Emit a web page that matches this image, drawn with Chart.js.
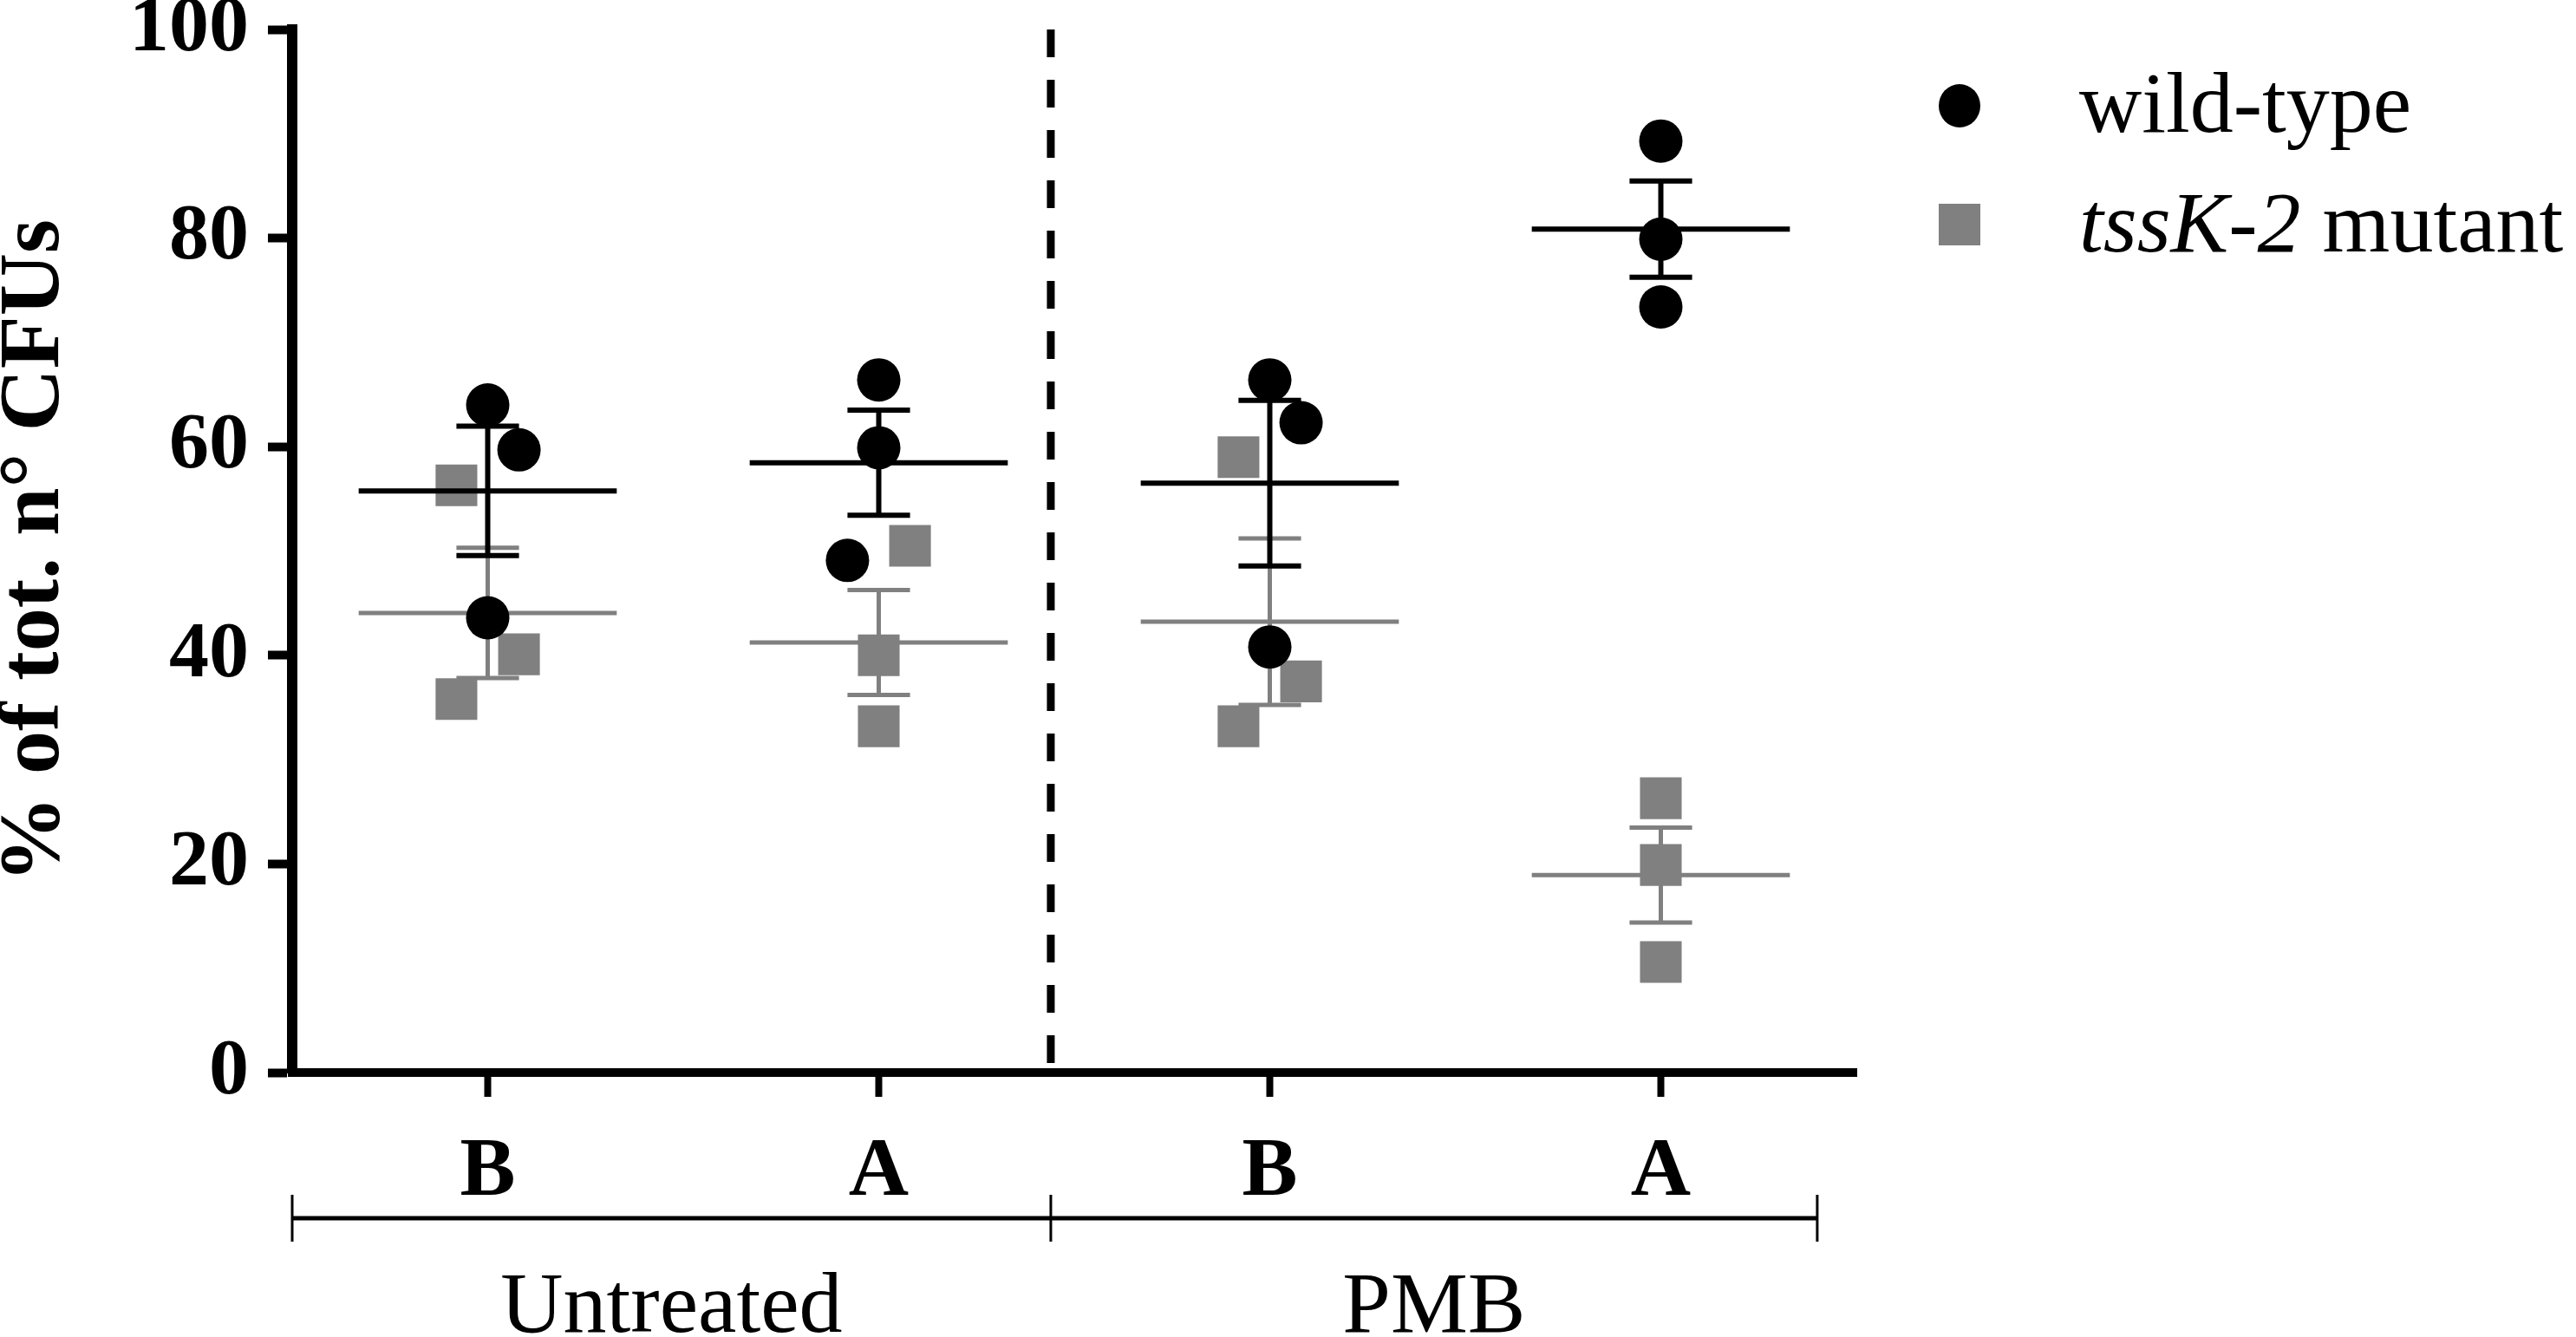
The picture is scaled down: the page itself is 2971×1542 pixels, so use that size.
<!DOCTYPE html>
<html>
<head>
<meta charset="utf-8">
<script src="https://cdn.jsdelivr.net/npm/chart.js@4.4.1/dist/chart.umd.min.js"></script>
<style>
html, body { margin: 0; padding: 0; background: #fff; }
canvas { display: block; }
</style>
</head>
<body>
<canvas id="myChart" width="2971" height="1542"></canvas>
<script>
// data (% of total CFUs, three replicates per group)
var categories = ['B', 'A', 'B', 'A'];
var groupLabels = ['Untreated', 'PMB'];
var seriesNames = ['wild-type', 'tssK-2 mutant'];
var wildType = [[64.0, 59.7, 43.6], [66.4, 59.9, 49.1], [66.4, 62.3, 40.8], [89.3, 79.9, 73.4]];
var mutant = [[56.3, 40.1, 35.8], [50.5, 40.0, 33.2], [59.0, 37.5, 33.2], [26.3, 19.9, 10.6]];
var yTicks = [0, 20, 40, 60, 80, 100];

// look
var BLACK = '#000000', GREY = '#808080';
var SERIF = '"Liberation Serif", "DejaVu Serif", serif';
// scatter placement of replicates (-1 left, 0 centre, 1 right)
var wtShift = [[0, 1, 0], [0, 0, -1], [0, 1, 0], [0, 0, 0]];
var mutShift = [[-1, 1, -1], [1, 0, 0], [-1, 1, -1], [0, 0, 0]];
var step = 0.08, halfMean = 0.33, halfCap = 0.08;
var split = 1.94, bracketEnd = 3.9;

function center(i) { return i + 0.5; }

function points(values, shift) {
    var out = [];
    values.forEach(function (g, i) {
        g.forEach(function (v, j) {
            out.push({x: center(i) + shift[i][j] * step, y: v});
        });
    });
    return out;
}

// mean line + SEM bars, segments split with null points
function summary(values) {
    var out = [];
    values.forEach(function (g, i) {
        var n = g.length;
        var m = g.reduce(function (a, b) { return a + b; }, 0) / n;
        var sd = Math.sqrt(g.reduce(function (a, b) { return a + (b - m) * (b - m); }, 0) / (n - 1));
        var sem = sd / Math.sqrt(n);
        var c = center(i);
        out.push(
            {x: c - halfMean, y: m}, {x: c + halfMean, y: m}, {x: c, y: null},
            {x: c, y: m - sem}, {x: c, y: m + sem}, {x: c, y: null},
            {x: c - halfCap, y: m + sem}, {x: c + halfCap, y: m + sem}, {x: c, y: null},
            {x: c - halfCap, y: m - sem}, {x: c + halfCap, y: m - sem}, {x: c, y: null}
        );
    });
    return out;
}

var extras = {
    id: 'extras',
    beforeDatasetsDraw: function (chart) {
        var c = chart.ctx, xs = chart.scales.x, area = chart.chartArea;
        var x = xs.getPixelForValue(split);
        c.save();
        c.strokeStyle = BLACK;
        c.lineWidth = 9;
        c.setLineDash([32, 26]);
        c.beginPath();
        c.moveTo(x, area.top);
        c.lineTo(x, area.bottom);
        c.stroke();
        c.restore();
    },
    afterDraw: function (chart) {
        var c = chart.ctx, xs = chart.scales.x;
        var x0 = xs.getPixelForValue(0), x1 = xs.getPixelForValue(split), x2 = xs.getPixelForValue(bracketEnd);
        var y = 1405;
        c.save();
        c.strokeStyle = BLACK;
        c.lineWidth = 5;
        c.beginPath();
        c.moveTo(x0, y); c.lineTo(x2, y);
        c.stroke();
        c.lineWidth = 3;
        [x0, x1, x2].forEach(function (px) {
            c.beginPath();
            c.moveTo(px, y - 27); c.lineTo(px, y + 27);
            c.stroke();
        });
        c.fillStyle = BLACK;
        c.font = '100px ' + SERIF;
        c.textAlign = 'center';
        c.textBaseline = 'alphabetic';
        c.fillText(groupLabels[0], (x0 + x1) / 2, 1536);
        c.fillText(groupLabels[1], (x1 + x2) / 2, 1536);

        // legend
        var lx = 2260, tx = 2398;
        c.beginPath();
        c.ellipse(lx, 122, 24, 25, 0, 0, Math.PI * 2);
        c.fill();
        c.fillStyle = GREY;
        c.fillRect(lx - 24, 259 - 24, 48, 48);
        c.fillStyle = BLACK;
        c.textAlign = 'left';
        c.font = '100px ' + SERIF;
        c.fillText(seriesNames[0], tx, 152);
        var parts = seriesNames[1].split(' ');
        c.font = 'italic 100px ' + SERIF;
        c.fillText(parts[0], tx, 290);
        var w = c.measureText(parts[0] + ' ').width;
        c.font = '100px ' + SERIF;
        c.fillText(parts.slice(1).join(' '), tx + w, 290);
        c.restore();
    }
};

var ctx = document.getElementById('myChart').getContext('2d');
var myChart = new Chart(ctx, {
    type: 'scatter',
    data: {
        datasets: [{
                label: seriesNames[0],
                data: points(wildType, wtShift),
                pointStyle: 'circle',
                pointRadius: 25,
                backgroundColor: BLACK,
                borderWidth: 0
            },
            {
                type: 'line',
                label: 'wild-type mean',
                data: summary(wildType),
                borderColor: BLACK,
                borderWidth: 6,
                borderCapStyle: 'butt',
                pointRadius: 0,
                spanGaps: false,
                fill: false
            },
            {
                label: seriesNames[1],
                data: points(mutant, mutShift),
                pointStyle: 'rect',
                pointRadius: 34,
                backgroundColor: GREY,
                borderWidth: 0
            },
            {
                type: 'line',
                label: 'mutant mean',
                data: summary(mutant),
                borderColor: GREY,
                borderWidth: 5,
                borderCapStyle: 'butt',
                pointRadius: 0,
                spanGaps: false,
                fill: false
            }
        ]
    },
    options: {
        responsive: false,
        devicePixelRatio: 1,
        animation: false,
        events: [],
        layout: {
            padding: {top: 34, right: 830, bottom: 0, left: 0}
        },
        plugins: {
            legend: {display: false},
            tooltip: {enabled: false}
        },
        scales: {
            x: {
                type: 'linear',
                position: 'bottom',
                min: 0,
                max: 4,
                afterBuildTicks: function (s) {
                    s.ticks = categories.map(function (c, i) { return {value: center(i)}; });
                },
                afterFit: function (s) { s.height = 305; },
                ticks: {
                    autoSkip: false,
                    maxRotation: 0,
                    padding: 31,
                    color: BLACK,
                    font: {family: SERIF, size: 96, weight: 'bold'},
                    callback: function (v, i) { return categories[i]; }
                },
                grid: {drawOnChartArea: false, tickLength: 28, tickWidth: 8, tickColor: BLACK},
                border: {color: BLACK, width: 10}
            },
            y: {
                min: 0,
                max: 100,
                afterBuildTicks: function (s) {
                    s.ticks = yTicks.map(function (v) { return {value: v}; });
                },
                afterFit: function (s) {
                    s.width = 337;
                    s.paddingTop = 0;
                    s.paddingBottom = 0;
                },
                ticks: {
                    padding: 22,
                    color: BLACK,
                    font: {family: SERIF, size: 92, weight: 'bold'}
                },
                grid: {drawOnChartArea: false, tickLength: 28, tickWidth: 10, tickColor: BLACK},
                border: {color: BLACK, width: 12},
                title: {
                    display: true,
                    text: '% of tot. n\u00b0 CFUs',
                    color: BLACK,
                    padding: 0,
                    font: {family: SERIF, size: 100, weight: 'bold', lineHeight: 0.82}
                }
            }
        }
    },
    plugins: [extras]
});
</script>
</body>
</html>
